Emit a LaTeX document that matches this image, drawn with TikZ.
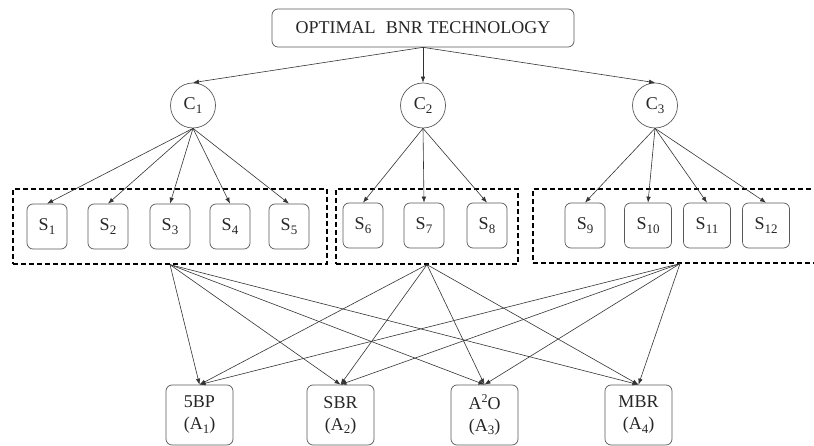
\documentclass[tikz,border=0pt]{standalone}
\usepackage{fontspec}
\setmainfont{Liberation Serif}
\usetikzlibrary{arrows.meta}
\newcommand{\sbx}[1]{\raisebox{-0.45ex}{\fontsize{13}{13}\selectfont #1}}
\newcommand{\spx}[1]{\raisebox{0.75ex}{\fontsize{12}{12}\selectfont #1}}
\begin{document}
\begin{tikzpicture}[x=1pt,y=-1pt,
  txt/.style={font=\fontsize{18}{22}\selectfont, text=black!85},
  box/.style={txt, draw=black!65, rounded corners=6pt, line width=0.7pt, inner sep=0pt},
  sbox/.style={box, minimum width=40pt, minimum height=45pt},
  wsbox/.style={box, minimum width=47pt, minimum height=45pt},
  abox/.style={box, minimum width=67pt, minimum height=60pt, align=center},
  crit/.style={txt, draw=black!65, circle, minimum size=45pt, inner sep=0pt, line width=0.7pt},
  arr/.style={-{Latex[length=6pt,width=4.5pt]}, draw=black!80, line width=0.6pt},
  grp/.style={draw=black, line width=1.3pt, dash pattern=on 5pt off 3pt, inner sep=0pt}
]
\useasboundingbox (0,0) rectangle (814,446);

% top
\node[box, minimum width=302pt, minimum height=38pt] (top) at (423,28) {OPTIMAL\,\, BNR TECHNOLOGY};

% criteria
\node[crit] (c1) at (193,105.5) {C\sbx{1}};
\node[crit] (c2) at (423,105.5) {C\sbx{2}};
\node[crit] (c3) at (655,105.5) {C\sbx{3}};

% groups
\begin{scope}
\clip (0,0) rectangle (814,446);
\node[grp, minimum width=314pt, minimum height=75pt] (g1) at (170,226.5) {};
\node[grp, minimum width=182pt, minimum height=75pt] (g2) at (427,226.5) {};
\node[grp, minimum width=294pt, minimum height=74pt] (g3) at (680,226) {};
\end{scope}

% sub-criteria
\node[sbox] (s1) at (47,226.5) {S\sbx{1}};
\node[sbox] (s2) at (108,226.5) {S\sbx{2}};
\node[sbox] (s3) at (170,226.5) {S\sbx{3}};
\node[sbox] (s4) at (230,226.5) {S\sbx{4}};
\node[sbox] (s5) at (289,226.5) {S\sbx{5}};
\node[sbox] (s6) at (363,225.5) {S\sbx{6}};
\node[sbox] (s7) at (424,225.5) {S\sbx{7}};
\node[sbox] (s8) at (487,225.5) {S\sbx{8}};
\node[sbox] (s9) at (585,225.5) {S\sbx{9}};
\node[wsbox] (s10) at (648,225.5) {S\sbx{10}};
\node[wsbox] (s11) at (707,225.5) {S\sbx{11}};
\node[wsbox] (s12) at (766,225.5) {S\sbx{12}};

% alternatives
\node[abox] (a1) at (199.5,415) {5BP\\(A\sbx{1})};
\node[abox] (a2) at (340.5,415) {SBR\\(A\sbx{2})};
\node[abox] (a3) at (484.5,415) {A\spx{2}O\\(A\sbx{3})};
\node[abox] (a4) at (638.5,415) {MBR\\(A\sbx{4})};

% top to criteria
\foreach \c in {c1,c2,c3} \draw[arr] (top.south) -- (\c.north);

% criteria to sub-criteria
\foreach \s in {s1,s2,s3,s4,s5} \draw[arr] (c1.south) -- (\s.north);
\foreach \s in {s6,s7,s8} \draw[arr] (c2.south) -- (\s.north);
\foreach \s in {s9,s10,s11,s12} \draw[arr] (c3.south) -- (\s.north);

% groups to alternatives
\foreach \g in {g1,g2,g3}
  \foreach \a in {a1,a2,a3,a4}
    \draw[arr] (\g.south) -- (\a.north);
\end{tikzpicture}
\end{document}
